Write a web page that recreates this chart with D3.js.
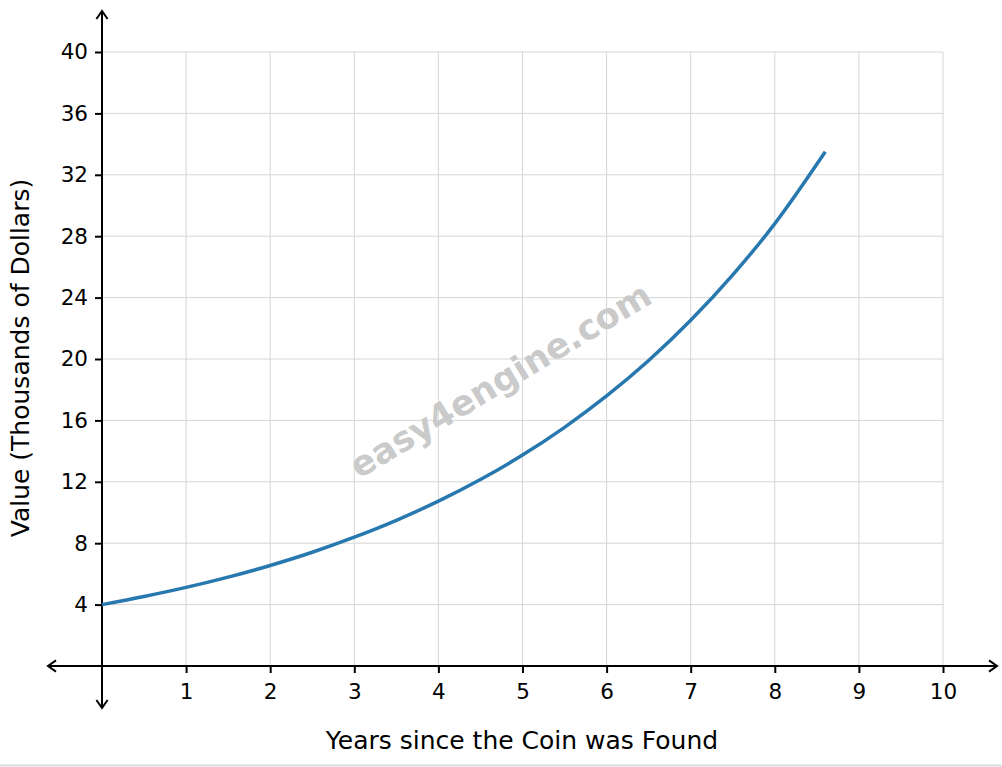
<!DOCTYPE html>
<html><head><meta charset="utf-8">
<script src="https://cdn.jsdelivr.net/npm/d3@7"></script>
<style>body{margin:0;background:#fff}svg{display:block}</style>
</head><body>
<script>
const years = [0,0.5,1,1.5,2,2.5,3,3.5,4,4.5,5,5.5,6,6.5,7,7.5,8,8.6];
const values = [4.00,4.53,5.12,5.79,6.55,7.41,8.39,9.49,10.74,12.15,13.74,15.55,17.59,19.90,22.52,25.48,28.82,33.5];
const xTicks = [1,2,3,4,5,6,7,8,9,10];
const yTicks = [4,8,12,16,20,24,28,32,36,40];
const xLabel = "Years since the Coin was Found";
const yLabel = "Value (Thousands of Dollars)";
const watermark = "easy4engine.com";

const W=1002,H=767;
const svg=d3.select("body").append("svg").attr("width",W).attr("height",H);
const x=d3.scaleLinear().domain([0,10]).range([102,943]);
const y=d3.scaleLinear().domain([0,40]).range([666,52]);
const font="DejaVu Sans";

// grid
svg.append("g").selectAll("line").data(xTicks).join("line")
 .attr("x1",d=>x(d)).attr("x2",d=>x(d)).attr("y1",y(0)).attr("y2",y(40))
 .attr("stroke","#d6d6d6").attr("stroke-width",1);
svg.append("g").selectAll("line").data(yTicks).join("line")
 .attr("y1",d=>y(d)).attr("y2",d=>y(d)).attr("x1",x(0)).attr("x2",x(10))
 .attr("stroke","#d6d6d6").attr("stroke-width",1);

// watermark
svg.append("text").attr("transform",`translate(${x(4.75)},${y(18.5)}) rotate(-31)`)
 .attr("text-anchor","middle").attr("dominant-baseline","middle")
 .attr("font-family",font).attr("font-weight","bold").attr("font-size",35)
 .attr("fill","#cacaca").text(watermark);

// axes lines
const ax=svg.append("g").attr("stroke","#000").attr("stroke-width",2).attr("fill","none");
ax.append("line").attr("x1",48).attr("x2",997).attr("y1",y(0)).attr("y2",y(0));
ax.append("line").attr("x1",x(0)).attr("x2",x(0)).attr("y1",11).attr("y2",708);
// arrowheads
const ah=8;
ax.append("path").attr("d",`M${997-ah},${y(0)-ah*0.7}L997,${y(0)}L${997-ah},${y(0)+ah*0.7}`);
ax.append("path").attr("d",`M${48+ah},${y(0)-ah*0.7}L48,${y(0)}L${48+ah},${y(0)+ah*0.7}`);
ax.append("path").attr("d",`M${x(0)-ah*0.7},${11+ah}L${x(0)},11L${x(0)+ah*0.7},${11+ah}`);
ax.append("path").attr("d",`M${x(0)-ah*0.7},${708-ah}L${x(0)},708L${x(0)+ah*0.7},${708-ah}`);

// ticks
const xAxis=svg.append("g").attr("transform",`translate(0,${y(0)})`)
 .call(d3.axisBottom(x).tickValues(xTicks).tickSize(7).tickPadding(11).tickFormat(d3.format("d")));
xAxis.select(".domain").remove();
const yAxis=svg.append("g").attr("transform",`translate(${x(0)},0)`)
 .call(d3.axisLeft(y).tickValues(yTicks).tickSize(7).tickPadding(7).tickFormat(d3.format("d")));
yAxis.select(".domain").remove();
svg.selectAll(".tick line").attr("stroke","#000").attr("stroke-width",2);
svg.selectAll(".tick text").attr("font-family",font).attr("font-size",21.5).attr("fill","#000");

// curve
const line=d3.line().x((d,i)=>x(years[i])).y(d=>y(d)).curve(d3.curveMonotoneX);
svg.append("path").datum(values).attr("d",line).attr("fill","none")
 .attr("stroke","#2878b0").attr("stroke-width",3.5);

// labels
svg.append("text").attr("x",522).attr("y",749).attr("text-anchor","middle")
 .attr("font-family",font).attr("font-size",25).attr("fill","#000").text(xLabel);
svg.append("text").attr("transform","translate(29,358) rotate(-90)").attr("text-anchor","middle")
 .attr("font-family",font).attr("font-size",25).attr("fill","#000").text(yLabel);

// bottom border
svg.append("line").attr("x1",0).attr("x2",W).attr("y1",765.5).attr("y2",765.5)
 .attr("stroke","#dcdcdc").attr("stroke-width",2);
</script>
</body></html>
